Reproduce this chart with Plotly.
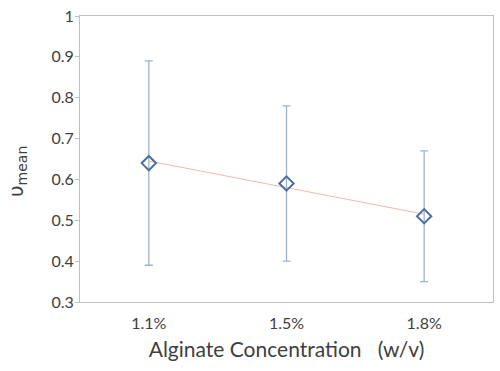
import numpy as np
import plotly.graph_objects as go

categories = ["1.1%", "1.5%", "1.8%"]
means = [0.64, 0.59, 0.51]
errors = [0.25, 0.19, 0.16]
y_ticks = [0.3, 0.4, 0.5, 0.6, 0.7, 0.8, 0.9, 1]
y_tick_labels = ["0.3", "0.4", "0.5", "0.6", "0.7", "0.8", "0.9", "1"]

xi = np.arange(1, len(categories) + 1)
slope, intercept = np.polyfit(xi, means, 1)
trend = slope * xi + intercept

fig = go.Figure()
fig.add_trace(go.Scatter(
    x=xi, y=trend, mode="lines",
    line=dict(color="#f2b8b0", width=1), hoverinfo="skip", showlegend=False))
fig.add_trace(go.Scatter(
    x=xi, y=means, mode="markers",
    marker=dict(symbol="diamond-open", size=11, color="#4a6fa0", line=dict(width=2)),
    error_y=dict(type="data", array=errors, visible=True, color="#9fb3c8", thickness=1.3, width=4),
    showlegend=False))

font = "Lato, 'Open Sans', sans-serif"
W, H = 500, 371
L, R, T, B = 80, 7, 16, 69
plot_w = W - L - R
plot_h = H - T - B
fig.update_layout(
    width=W, height=H,
    margin=dict(l=L, r=R, t=T, b=B),
    paper_bgcolor="white", plot_bgcolor="white",
    font=dict(family=font, color="#404040"),
    xaxis=dict(
        range=[0.5, 3.5], tickvals=list(xi), ticktext=categories,
        showgrid=False, zeroline=False, ticks="", automargin=False,
        ticklabelstandoff=7,
        showline=True, linecolor="#bfbfbf", linewidth=1, mirror=True,
        tickfont=dict(size=16, color="#404040"),
        title=dict(text="Alginate Concentration\u00a0\u00a0 (w/v)", font=dict(size=21, color="#404040"), standoff=11),
    ),
    yaxis=dict(
        range=[0.3, 1.0], tickvals=y_ticks, ticktext=y_tick_labels,
        showgrid=False, zeroline=False, automargin=False,
        ticks="outside", ticklen=4, tickcolor="#bfbfbf",
        ticklabeloverflow="allow", ticklabelstandoff=-2,
        showline=True, linecolor="#bfbfbf", linewidth=1, mirror=True,
        tickfont=dict(size=16, color="#404040"),
    ),
    annotations=[dict(
        text="υ<sub>mean</sub>", textangle=-90, showarrow=False,
        xref="paper", yref="paper",
        x=(17 - L) / plot_w, y=1 - (171 - T) / plot_h,
        xanchor="center", yanchor="middle",
        font=dict(size=20, family="'DejaVu Sans', sans-serif", color="#404040"),
    )],
)
fig.write_html("out.html", config={"displayModeBar": False},
               post_script="document.body.style.margin='0';")
